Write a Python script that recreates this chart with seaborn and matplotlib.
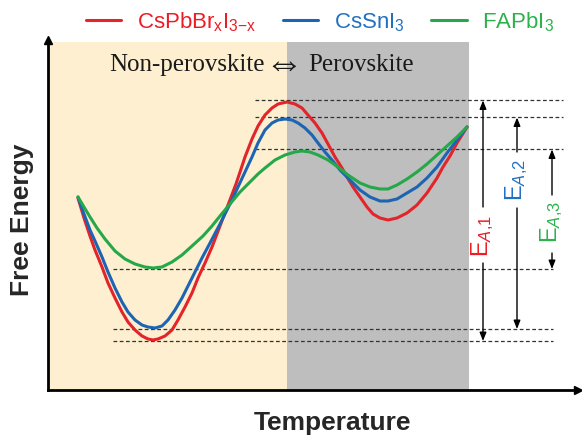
import matplotlib
matplotlib.use("Agg")
import matplotlib.pyplot as plt
import seaborn as sns

# curve samples (x = temperature, y = free energy, arbitrary units)
red_x = [30, 36, 42, 47, 54, 60, 67, 74, 80, 87, 94, 100, 105, 110, 117, 124, 130, 137, 144, 150,
         157, 164, 172, 180, 188, 197, 204, 210, 217, 224, 230, 239, 247, 254, 260, 267, 274, 280, 287, 294,
         299, 305, 312, 319, 325, 332, 340, 349, 359, 369, 379, 389, 395, 402, 409, 419]
red_y = [192, 172, 154, 140, 123, 107, 92, 78, 68, 60, 54, 51, 50, 51, 54, 60, 70, 83, 97, 112,
         127, 143, 164, 185, 206, 233, 251, 264, 275, 282, 286, 288, 286, 282, 275, 267, 257, 246, 233, 222,
         213, 203, 193, 183, 176, 172, 170, 172, 177, 185, 197, 212, 223, 234, 247, 263]

blue_x = [30, 36, 42, 47, 54, 60, 67, 74, 80, 87, 94, 100, 107, 114, 120, 127, 134, 140, 147, 154,
          162, 172, 182, 190, 197, 204, 210, 217, 224, 230, 237, 244, 250, 257, 264, 270, 277, 284, 292, 302,
          312, 322, 332, 340, 349, 359, 369, 379, 389, 399, 409, 419]
blue_y = [193, 176, 160, 149, 133, 118, 102, 88, 78, 70, 65, 63, 62, 64, 70, 80, 92, 104, 118, 132,
          147, 166, 186, 203, 218, 233, 247, 260, 267, 270, 271, 270, 267, 262, 255, 247, 238, 230, 220, 210,
          200, 193, 189, 189, 191, 197, 203, 212, 223, 237, 250, 263]

green_x = [30, 36, 42, 49, 57, 67, 77, 87, 97, 105, 114, 124, 134, 144, 155, 164, 172, 182, 192, 202,
           210, 217, 227, 237, 247, 254, 262, 270, 280, 290, 300, 312, 322, 332, 340, 349, 359, 369, 379, 389,
           399, 409, 419]
green_y = [193, 183, 173, 162, 151, 139, 131, 126, 123, 122, 123, 128, 135, 144, 154, 164, 174, 186, 198, 208,
           216, 222, 230, 235, 238, 239, 238, 235, 230, 223, 215, 207, 203, 201, 201, 205, 211, 218, 226, 235,
           244, 253, 263]

series_names = [r"CsPbBr$\mathregular{_xI_{3{-}x}}$", r"CsSnI$\mathregular{_3}$", r"FAPbI$\mathregular{_3}$"]
line_colors = ["#e3242b", "#1c65b3", "#25a84a"]
text_colors = ["#ec1c24", "#2171c1", "#2bb24c"]
barrier_labels = ["E$_{A{,}1}$", "E$_{A{,}2}$", "E$_{A{,}3}$"]

phase_edges = [0, 239, 421]  # non-perovskite | perovskite | end of shading

sns.set_style("white")
plt.rcParams["font.family"] = ["Liberation Sans", "DejaVu Sans"]
plt.rcParams["mathtext.fontset"] = "custom"
plt.rcParams["mathtext.rm"] = "Liberation Sans"
plt.rcParams["mathtext.it"] = "Liberation Sans:italic"
plt.rcParams["mathtext.bf"] = "Liberation Sans:bold"

fig = plt.figure(figsize=(5.82, 4.4), dpi=100)
ax = fig.add_axes([48 / 582, 50 / 440, 530 / 582, 350 / 440])
ax.set_xlim(0, 530)
ax.set_ylim(0, 350)

# phase shading
ax.axvspan(phase_edges[0], phase_edges[1], ymax=348 / 350, color="#fdefcf", lw=0, zorder=0)
ax.axvspan(phase_edges[1], phase_edges[2], ymax=348 / 350, color="#bebebe", lw=0, zorder=0)

curves = [(red_x, red_y), (blue_x, blue_y), (green_x, green_y)]
for (cx, cy), name, col in zip(curves, series_names, line_colors):
    sns.lineplot(x=cx, y=cy, ax=ax, color=col, linewidth=2.2, label=name,
                 solid_joinstyle="round", solid_capstyle="round", zorder=3)

# barrier top (local max) and bottom (global min) of each curve
tops = [max(y for x, y in zip(cx, cy) if x < 350) + 1.5 for cx, cy in curves]
bottoms = [min(cy) - 1 for cx, cy in curves]

dash = (0, (3, 2))
for top, bot in zip(tops, bottoms):
    ax.plot([207, 515], [top, top], color="#333333", lw=0.9, ls=dash, zorder=2)
    ax.plot([65, 505], [bot, bot], color="#333333", lw=0.9, ls=dash, zorder=2)

# activation energy arrows with a gap for the label
arrow_x = [435, 469, 504]
gaps = [(127, 183), (182, 238), (137, 195)]
label_y = [154, 210, 168]
aprops = dict(arrowstyle="-|>,head_length=0.5,head_width=0.2", color="black", lw=1,
              shrinkA=0, shrinkB=0)
for top, bot, xa, (g0, g1), ly, lab, col in zip(tops, bottoms, arrow_x, gaps, label_y,
                                                 barrier_labels, text_colors):
    ax.annotate("", xy=(xa, top), xytext=(xa, g1), arrowprops=aprops)
    ax.annotate("", xy=(xa, bot), xytext=(xa, g0), arrowprops=aprops)
    ax.text(xa, ly, lab, rotation=90, color=col, fontsize=17, ha="center", va="center")

serif = ["Liberation Serif", "DejaVu Serif"]
ax.text(217, 325, "Non-perovskite", ha="right", va="center", fontsize=18, family=serif, color="#1a1a1a")
ax.text(236, 325, "\u21d4", ha="center", va="center", fontsize=28, family=serif, color="#1a1a1a")
ax.text(260, 325, "Perovskite", ha="left", va="center", fontsize=18, family=serif, color="#1a1a1a")

# axes drawn as arrows
for s in ["top", "right"]:
    ax.spines[s].set_visible(False)
for s in ["left", "bottom"]:
    ax.spines[s].set_linewidth(2)
    ax.spines[s].set_color("black")
ax.plot([0], [1.0], marker="^", color="black", ms=6, transform=ax.transAxes, clip_on=False)
ax.plot([1.0], [0], marker=">", color="black", ms=6, transform=ax.transAxes, clip_on=False)
ax.set_xticks([])
ax.set_yticks([])
ax.set_xlabel("")
ax.set_ylabel("")

fig.text(22 / 582, 1 - 220 / 440, "Free Energy", rotation=90, ha="center", va="center",
         fontsize=19, fontweight="bold")
fig.text(333 / 582, 1 - 423 / 440, "Temperature", ha="center", va="center",
         fontsize=19, fontweight="bold")

handles, labels = ax.get_legend_handles_labels()
ax.get_legend().remove()
leg = fig.legend(handles, labels, loc="center", bbox_to_anchor=(0.55, 1 - 22 / 440), ncol=3,
                 frameon=False, fontsize=16, handlelength=1.6, handletextpad=0.7,
                 columnspacing=1.2, borderaxespad=0)
for t, c in zip(leg.get_texts(), text_colors):
    t.set_color(c)

fig.savefig("out.png", dpi=100)
